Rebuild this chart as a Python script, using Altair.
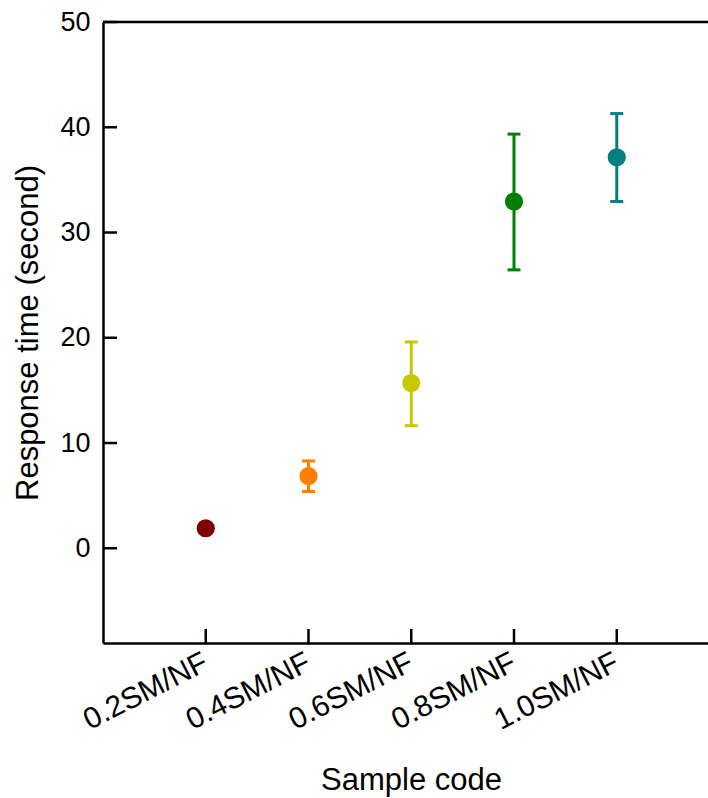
import altair as alt
import pandas as pd

samples = ["0.2SM/NF", "0.4SM/NF", "0.6SM/NF", "0.8SM/NF", "1.0SM/NF"]
positions = [1, 2, 3, 4, 5]
means = [1.9, 6.85, 15.7, 32.95, 37.15]
upper = [2.2, 8.3, 19.6, 39.35, 41.3]
lower = [1.6, 5.4, 11.65, 26.45, 32.95]
colors = ["#800000", "#FF8000", "#C8C800", "#008000", "#008080"]
y_ticks = [0, 10, 20, 30, 40, 50]

W, H = 605, 621
FONT = "Liberation Sans"

df = pd.DataFrame({"sample": samples, "pos": positions, "mean": means,
                   "upper": upper, "lower": lower})

label_expr = "[" + ",".join(f"'{s}'" for s in samples) + "][datum.value - 1]"

xscale = alt.Scale(domain=[0, W / 102.75], nice=False, zero=False)
yscale = alt.Scale(domain=[-9, 50], nice=False, zero=False)
cscale = alt.Scale(domain=samples, range=colors)

base = alt.Chart(df)

x_enc = alt.X("pos:Q", scale=xscale,
              axis=alt.Axis(values=positions, labelExpr=label_expr, title="Sample code",
                            grid=False, ticks=False, domainColor="black", domainWidth=2.5,
                            labelAngle=333, labelAlign="right", labelBaseline="top",
                            labelPadding=4, labelOffset=-7, labelFontSize=30, labelFont=FONT,
                            labelColor="black",
                            titleFontSize=31, titleFont=FONT, titleFontWeight="normal",
                            titleX=308, titleY=146, titleBaseline="alphabetic", titleAlign="center",
                            titleColor="black", labelOverlap=False))
y_enc = alt.Y("mean:Q", scale=yscale,
              axis=alt.Axis(values=y_ticks, title="Response time (second)", grid=False, ticks=False,
                            domainColor="black", domainWidth=2.5, labelPadding=13,
                            labelFontSize=27, labelFont=FONT, labelColor="black",
                            titleFontSize=31, titleFont=FONT, titleFontWeight="normal",
                            titleAngle=270, titleX=-66, titleY=H / 2, titleBaseline="alphabetic",
                            titleAlign="center", titleColor="black"))

errs = base.mark_rule(strokeWidth=3).encode(
    x=alt.X("pos:Q", scale=xscale),
    y=alt.Y("lower:Q", scale=yscale),
    y2="upper:Q",
    color=alt.Color("sample:N", scale=cscale, legend=None),
)
cap_hi = base.mark_tick(orient="horizontal", size=13, thickness=3, opacity=1).encode(
    x=alt.X("pos:Q", scale=xscale),
    y=alt.Y("upper:Q", scale=yscale),
    color=alt.Color("sample:N", scale=cscale, legend=None),
)
cap_lo = base.mark_tick(orient="horizontal", size=13, thickness=3, opacity=1).encode(
    x=alt.X("pos:Q", scale=xscale),
    y=alt.Y("lower:Q", scale=yscale),
    color=alt.Color("sample:N", scale=cscale, legend=None),
)
points = base.mark_circle(size=330, opacity=1).encode(
    x=x_enc, y=y_enc,
    color=alt.Color("sample:N", scale=cscale, legend=None),
)

ytick_df = pd.DataFrame({"v": y_ticks})
yticks = alt.Chart(ytick_df).mark_rule(color="black", strokeWidth=2.5).encode(
    y=alt.Y("v:Q", scale=yscale), x=alt.value(0), x2=alt.value(14))
xtick_df = pd.DataFrame({"p": positions})
xticks = alt.Chart(xtick_df).mark_rule(color="black", strokeWidth=2.5).encode(
    x=alt.X("p:Q", scale=xscale), y=alt.value(H), y2=alt.value(H - 14))
top_df = pd.DataFrame({"v": [50]})
topline = alt.Chart(top_df).mark_rule(color="black", strokeWidth=2.5).encode(
    y=alt.Y("v:Q", scale=yscale), x=alt.value(0), x2=alt.value(W))

chart = alt.layer(points, yticks, xticks, topline, errs, cap_hi, cap_lo).properties(
    width=W, height=H,
    autosize=alt.AutoSizeParams(type="none"),
    padding={"left": 103, "top": 22, "right": 0, "bottom": 155},
).configure_view(stroke=None).configure(background="white")

chart.save("out.html", embed_options={"renderer": "svg", "actions": False})
